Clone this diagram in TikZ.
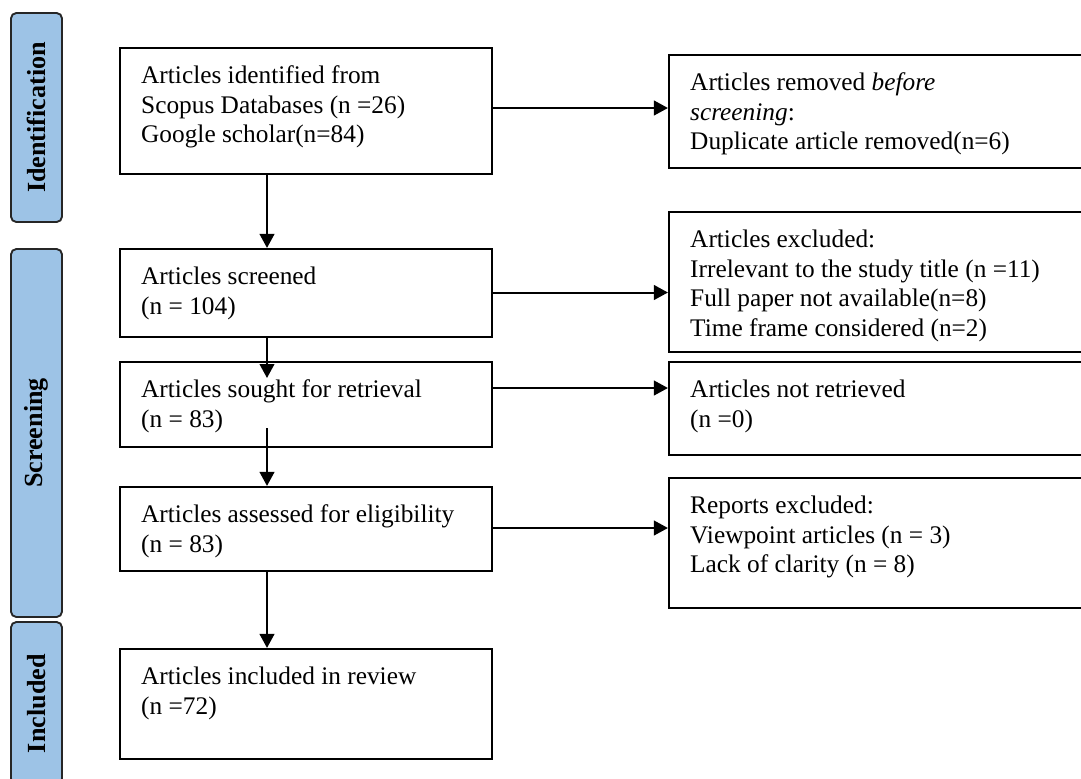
\documentclass[tikz,border=0pt]{standalone}
\usepackage{fontspec}
\setmainfont{Liberation Serif}
\usetikzlibrary{arrows.meta,fit}
\definecolor{barblue}{RGB}{157,195,230}
\tikzset{
  px/.style={x=0.75pt,y=-0.75pt},
  flowbox/.style={draw=black,line width=1.6pt,inner sep=0pt},
  phasebar/.style={draw=black!85,fill=barblue,line width=1.4pt,rounded corners=4pt,inner sep=0pt},
  phasetext/.style={rotate=90,font=\fontsize{19.6}{22}\selectfont\bfseries},
  boxtext/.style={anchor=north west,inner sep=0pt,align=left,font=\fontsize{19}{22.2}\selectfont},
  arr/.style={line width=1.5pt,-{Triangle[length=10.5pt,width=11pt]}},
}
\begin{document}
\begin{tikzpicture}[px]
\useasboundingbox (0,0) rectangle (1081,778);
\clip (0,0) rectangle (1081,778);
% phase bars
\node[phasebar,fit={(11,13)(62,222)}] (p1) {};
\node[phasebar,fit={(11,249)(62,617)}] (p2) {};
\node[phasebar,fit={(11,622)(62,784)}] (p3) {};
\node[phasetext] (p1t) at (p1.center) {Identification};
\node[phasetext] (p2t) at (p2.center) {Screening};
\node[phasetext] (p3t) at ([yshift=-0.5pt]p3.center) {Included};
% main boxes
\node[flowbox,fit={(120,48)(492,174)}] (b1) {};
\node[flowbox,fit={(120,249)(492,337)}] (b2) {};
\node[flowbox,fit={(120,362)(492,447)}] (b3) {};
\node[flowbox,fit={(120,487)(492,571)}] (b4) {};
\node[flowbox,fit={(120,649)(492,759)}] (b5) {};
% right boxes
\node[flowbox,fit={(669,55)(1100,168)}] (r1) {};
\node[flowbox,fit={(669,212)(1100,352)}] (r2) {};
\node[flowbox,fit={(669,362)(1100,455)}] (r3) {};
\node[flowbox,fit={(669,478)(1100,608)}] (r4) {};
% texts
\node[boxtext] (t1) at ([xshift=16.5pt,yshift=-14pt]b1.north west) {Articles identified from\\Scopus Databases (n =26)\\Google scholar(n=84)};
\node[boxtext] (t2) at ([xshift=16.5pt,yshift=-14pt]b2.north west) {Articles screened\\(n = 104)};
\node[boxtext] (t3) at ([xshift=16.5pt,yshift=-14pt]b3.north west) {Articles sought for retrieval\\(n = 83)};
\node[boxtext] (t4) at ([xshift=16.5pt,yshift=-14pt]b4.north west) {Articles assessed for eligibility\\(n = 83)};
\node[boxtext] (t5) at ([xshift=16.5pt,yshift=-14pt]b5.north west) {Articles included in review\\(n =72)};
\node[boxtext] (s1) at ([xshift=16.5pt,yshift=-14pt]r1.north west) {Articles removed \textit{before}\\\textit{screening}:\\Duplicate article removed(n=6)};
\node[boxtext] (s2) at ([xshift=16.5pt,yshift=-14pt]r2.north west) {Articles excluded:\\Irrelevant to the study title (n =11)\\Full paper not available(n=8)\\Time frame considered (n=2)};
\node[boxtext] (s3) at ([xshift=16.5pt,yshift=-14pt]r3.north west) {Articles not retrieved\\(n =0)};
\node[boxtext] (s4) at ([xshift=16.5pt,yshift=-14pt]r4.north west) {Reports excluded:\\Viewpoint articles (n = 3)\\Lack of clarity (n = 8)};
% helper coordinates
\coordinate (vx) at (267,0);
\coordinate (h1) at (0,108);
\coordinate (h2) at (0,292.5);
\coordinate (h3) at (0,388);
\coordinate (h4) at (0,528);
\coordinate (e23) at (267,378);
\coordinate (s34) at (267,428);
% vertical arrows
\draw[arr] (b1.south -| vx) -- (b2.north -| vx);
\draw[arr] (b2.south -| vx) -- (e23);
\draw[arr] (s34) -- (b4.north -| vx);
\draw[arr] (b4.south -| vx) -- (b5.north -| vx);
% horizontal arrows
\draw[arr] (b1.east |- h1) -- (r1.west |- h1);
\draw[arr] (b2.east |- h2) -- (r2.west |- h2);
\draw[arr] (b3.east |- h3) -- (r3.west |- h3);
\draw[arr] (b4.east |- h4) -- (r4.west |- h4);
\end{tikzpicture}
\end{document}
